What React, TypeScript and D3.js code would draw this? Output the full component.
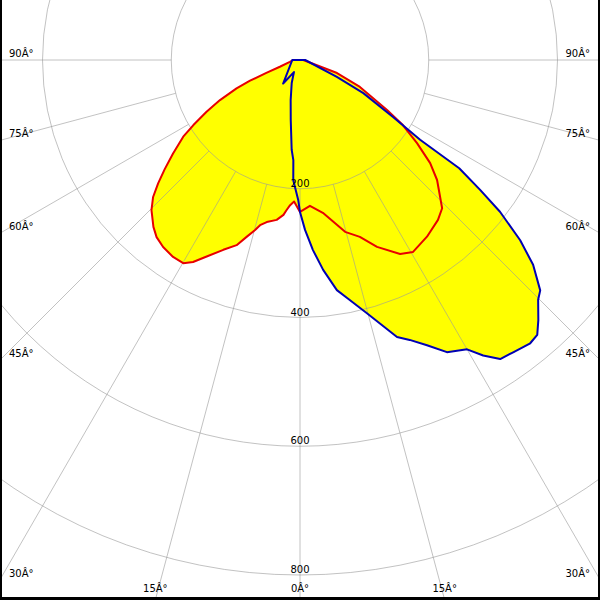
import React from "react";
import * as d3 from "d3";

// Intensity (cd) vs. gamma angle (deg from nadir) for each half plane
const redLeftAngles = [0, 2.4, 3.9, 5.1, 6.1, 8.3, 11.6, 13.6, 14.8, 16.8, 18.9, 22, 25.4, 27.9, 29.9, 32.8, 36.2, 39, 41.3, 44.7, 47, 49, 51.1, 53.6, 56.7, 58.6, 61, 63.4, 65.9, 67.5, 69, 71.5, 80, 90];
const redLeftValues = [236, 220, 226, 234, 242, 251, 257, 264, 273, 287, 304, 318, 338, 355, 364, 364, 360, 354, 345, 328, 312, 292, 270, 245, 217, 194, 166, 139, 108, 84, 56, 33, 16, 11];

const redRightAngles = [0, 3.9, 8.5, 14.7, 18.7, 22.4, 27.3, 30.5, 35.7, 40.8, 43.8, 48.8, 51.6, 54.6, 57.7, 60.1, 65.8, 70.6, 90];
const redRightValues = [236, 227, 240, 276, 290, 314, 339, 346, 338, 328, 319, 283, 258, 223, 189, 156, 102, 61, 5];

const blueLeftAngles = [0, 0.7, 3.2, 3.8, 5.3, 8.8, 13.1, 19.8, 26.6, 35.6, 90];
const blueLeftValues = [236, 218, 187, 156, 140, 94, 64, 38, 21, 45, 12];

const blueRightAngles = [0, 1.7, 3.9, 6.3, 9.1, 11.2, 14.8, 19.3, 21.4, 24, 26.7, 30, 31.8, 33.8, 36.1, 39.1, 40.8, 42.5, 44.8, 46.2, 48.7, 50.7, 52.8, 54.2, 55.8, 56.4, 58.5, 62.4, 65.3, 90];
const blueRightValues = [236, 264, 296, 328, 362, 377, 407, 456, 467, 485, 508, 519, 540, 559, 562, 567, 564, 548, 525, 517, 482, 442, 390, 345, 299, 224, 170, 111, 63, 8];

const ringValues = [200, 400, 600, 800];
const spokeAngles = [-90, -75, -60, -45, -30, -15, 0, 15, 30, 45, 60, 75, 90];
const degSuffix = "Â°";

const W = 600;
const H = 600;
const CX = 300;
const CY = 60;

const rScale = d3.scaleLinear().domain([0, 800]).range([0, 515]);

function toXY(gamma: number, I: number, side: number): [number, number] {
  const a = (gamma * Math.PI) / 180;
  const r = rScale(I);
  return [CX + side * r * Math.sin(a), CY + r * Math.cos(a)];
}

function curvePath(lA: number[], lV: number[], rA: number[], rV: number[]) {
  const pts: [number, number][] = [];
  for (let i = lA.length - 1; i >= 0; i--) pts.push(toXY(lA[i], lV[i], -1));
  for (let i = 1; i < rA.length; i++) pts.push(toXY(rA[i], rV[i], 1));
  return (d3.line()(pts) || "") + "Z";
}

export default function App() {
  const redD = curvePath(redLeftAngles, redLeftValues, redRightAngles, redRightValues);
  const blueD = curvePath(blueLeftAngles, blueLeftValues, blueRightAngles, blueRightValues);
  const r0 = rScale(ringValues[0]);
  const font = "DejaVu Sans, Verdana, sans-serif";

  const spokeLabels = spokeAngles.map((ang) => {
    const a = (ang * Math.PI) / 180;
    const s = Math.sin(a);
    const c = Math.cos(a);
    const tSide = Math.abs(s) > 1e-9 ? (s > 0 ? (W - CX) / s : CX / -s) : Infinity;
    const tBot = c > 1e-9 ? (H - CY) / c : Infinity;
    const text = `${Math.abs(ang)}${degSuffix}`;
    if (tSide < tBot) {
      const y = CY + tSide * c - 3;
      return s > 0
        ? { x: 590, y, anchor: "end", text }
        : { x: 9, y, anchor: "start", text };
    }
    return { x: CX + tBot * s, y: 592, anchor: "middle", text };
  });

  return (
    <svg
      width={W}
      height={H}
      style={{ position: "absolute", left: 0, top: 0, background: "#fff" }}
    >
      <rect x={0} y={0} width={W} height={H} fill="#fff" />
      <path d={redD} fill="#ffff00" stroke="none" />
      <path d={blueD} fill="#ffff00" stroke="none" />
      <g stroke="#999" strokeOpacity={0.6} fill="none" strokeWidth={1}>
        {ringValues.map((v) => (
          <circle key={v} cx={CX} cy={CY} r={rScale(v)} />
        ))}
        {spokeAngles.map((ang) => {
          const a = (ang * Math.PI) / 180;
          return (
            <line
              key={ang}
              x1={CX + r0 * Math.sin(a)}
              y1={CY + r0 * Math.cos(a)}
              x2={CX + 1200 * Math.sin(a)}
              y2={CY + 1200 * Math.cos(a)}
            />
          );
        })}
      </g>
      <path d={redD} fill="none" stroke="#e80000" strokeWidth={2} strokeLinejoin="round" />
      <path d={blueD} fill="none" stroke="#0000b4" strokeWidth={2} strokeLinejoin="round" />
      <g fontFamily={font} fontSize={10} fill="#000">
        {ringValues.map((v) => (
          <text key={v} x={CX} y={CY + rScale(v) - 2} textAnchor="middle">
            {v}
          </text>
        ))}
        {spokeLabels.map((l, i) => (
          <text key={i} x={l.x} y={l.y} textAnchor={l.anchor as any}>
            {l.text}
          </text>
        ))}
      </g>
      <rect x={0} y={0} width={2} height={H} fill="#000" />
      <rect x={W - 2} y={0} width={2} height={H} fill="#000" />
      <rect x={0} y={H - 3} width={W} height={3} fill="#000" />
    </svg>
  );
}
